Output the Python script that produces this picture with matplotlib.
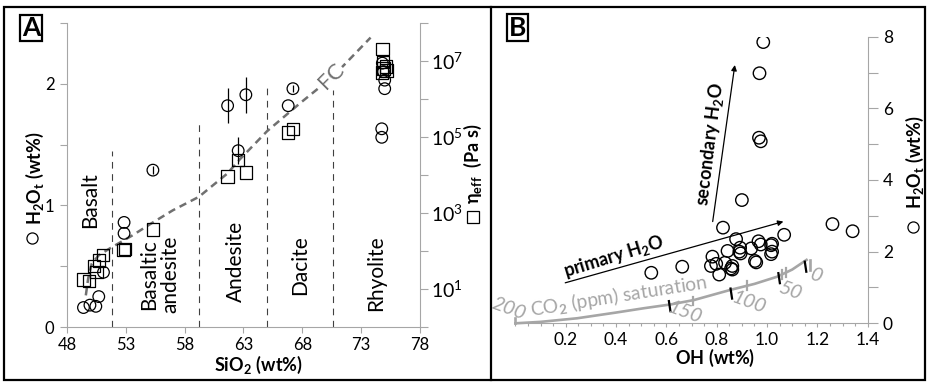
import numpy as np
import matplotlib
matplotlib.use("Agg")
import matplotlib.pyplot as plt
from matplotlib.lines import Line2D
from matplotlib.patches import Rectangle
from matplotlib.ticker import MultipleLocator, FixedLocator, FuncFormatter, NullFormatter

plt.rcParams["font.family"] = ["Lato", "DejaVu Sans"]
plt.rcParams["mathtext.fontset"] = "custom"
plt.rcParams["mathtext.rm"] = "Lato"
plt.rcParams["mathtext.bf"] = "Lato:bold"
plt.rcParams["mathtext.it"] = "Lato:italic"

# ---- panel A data ----
a_sio2 = [49.4, 49.95, 50.45, 50.7, 51.1, 52.85, 52.85, 55.3, 61.65, 63.2, 62.55,
          66.8, 67.2, 74.8, 74.9, 75.0, 75.0, 74.75, 74.75]
a_h2o = [0.16, 0.18, 0.17, 0.25, 0.45, 0.86, 0.77, 1.29, 1.82, 1.91, 1.45,
         1.82, 1.96, 2.17, 2.10, 2.03, 1.96, 1.63, 1.56]
a_h2o_err = [0, 0, 0, 0, 0, 0, 0, 0.03, 0.145, 0.15, 0.11,
             0, 0.03, 0, 0, 0, 0, 0, 0]

eta_sio2 = [49.4, 49.85, 50.3, 50.5, 50.7, 51.05, 52.8, 52.95, 55.3, 61.65, 62.55,
            63.2, 66.8, 67.2, 74.8, 74.85, 75.1, 74.9, 74.75, 75.15]
eta = [18, 16, 40, 28, 56, 79, 107, 112, 370, 9.1e3, 2.5e4,
       1.15e4, 1.3e5, 1.65e5, 2.1e7, 9.5e6, 7.1e6, 6.3e6, 5.0e6, 5.6e6]

fc_sio2 = [49.6, 49.8, 50.1, 50.7, 51.7, 53.5, 55.3, 57.0, 59.2, 61.6, 62.7,
           65.0, 67.8, 70.6, 73.8]
fc_h2o = [0.26, 0.40, 0.52, 0.59, 0.65, 0.75, 0.86, 0.96, 1.07, 1.26, 1.38,
          1.61, 1.84, 2.06, 2.38]

bound_sio2 = [51.8, 59.2, 65.0, 70.6]
bound_top = [1.45, 1.68, 2.0, 1.95]

rock_names = ["Basalt", "Basaltic\nandesite", "Andesite", "Dacite", "Rhyolite"]
rock_x = [49.95, 55.9, 62.35, 67.8, 74.3]
rock_y = [1.04, 0.43, 0.54, 0.51, 0.44]

sio2_ticks = [48, 53, 58, 63, 68, 73, 78]

# ---- panel B data ----
b_oh = [0.985, 0.97, 0.968, 0.975, 0.90, 0.825, 1.26, 1.34, 1.068, 0.54, 0.663,
        0.877, 0.966, 0.975, 1.016, 1.016, 1.02, 0.937, 0.893, 0.89, 0.895,
        0.843, 0.783, 0.798, 0.777, 0.833, 0.862, 0.862, 0.857, 0.81, 0.952,
        0.957, 1.02]
b_h2o = [7.85, 6.98, 5.18, 5.08, 3.44, 2.67, 2.77, 2.57, 2.47, 1.41, 1.58,
         2.35, 2.29, 2.20, 2.18, 1.93, 2.00, 2.09, 2.11, 2.00, 1.95,
         2.02, 1.86, 1.66, 1.60, 1.69, 1.60, 1.50, 1.53, 1.36, 1.74,
         1.70, 2.22]

co2_oh = [0.0, 0.1, 0.245, 0.4, 0.51, 0.62, 0.71, 0.853, 0.95, 1.04, 1.1, 1.157]
co2_h2o = [0.0, 0.04, 0.14, 0.30, 0.42, 0.53, 0.65, 0.93, 1.10, 1.30, 1.50, 1.77]
co2_labels = ["200", "150", "100", "50", "0"]
co2_label_x = [-0.025, 0.675, 0.93, 1.09, 1.195]
co2_label_y = [0.40, 0.30, 0.58, 0.92, 1.33]
co2_black_x = [0.61, 0.855, 1.045, 1.15]
co2_black_y = [0.62, 0.97, 1.40, 1.72]
co2_gray_x = [0.705, 0.922, 1.06]
co2_gray_y = [0.74, 1.17, 1.49]

W, H = 928, 383
fig = plt.figure(figsize=(W / 100, H / 100), dpi=100)
gray = "#a6a6a6"
lab_size = 13

# ================= panel A =================
ax = fig.add_axes([67 / W, 56 / H, 353 / W, 304 / H])
ax.set_xlim(48, 78)
ax.set_ylim(0, 2.5)
ax.xaxis.set_major_locator(FixedLocator(sio2_ticks))
ax.yaxis.set_major_locator(MultipleLocator(1))
ax.yaxis.set_minor_locator(MultipleLocator(0.5))
ax.yaxis.set_minor_formatter(NullFormatter())
ax.tick_params(axis="y", which="both", length=5, width=0.8, color=gray, labelsize=12, pad=4)
ax.tick_params(axis="x", length=4, width=0.8, color=gray, labelsize=12, pad=3)
for s in ["left", "bottom"]:
    ax.spines[s].set_color(gray)
for s in ["top", "right"]:
    ax.spines[s].set_visible(False)

for x, top in zip(bound_sio2, bound_top):
    ax.plot([x, x], [0, top], color="#404040", lw=0.8, dashes=(6, 5))

ax.plot(fc_sio2, fc_h2o, color="#707070", lw=1.8, dashes=(3, 2), zorder=2)
ax.text(70.45, 2.06, "FC", color="#707070", fontsize=16, rotation=45,
        ha="center", va="center", bbox=dict(fc="white", ec="none", pad=0.5), zorder=3)

for name, x, y in zip(rock_names, rock_x, rock_y):
    ax.text(x, y, name, rotation=90, fontsize=15, ha="center", va="center",
            linespacing=1.05)

ax.errorbar(a_sio2, a_h2o, yerr=a_h2o_err, fmt="none", ecolor="black", elinewidth=0.9,
            capsize=0, zorder=3)
ax.scatter(a_sio2, a_h2o, s=70, marker="o", facecolors="none", edgecolors="black",
           linewidths=0.9, zorder=4)

ax.text(0.5425, -0.125, r"$\mathbf{SiO_2\ (wt\%)}$", fontsize=lab_size,
        transform=ax.transAxes, ha="center", va="center")
ax.text(-0.0907, 0.49, r"$\mathbf{H_2O_t\ (wt\%)}$", fontsize=lab_size, rotation=90,
        transform=ax.transAxes, ha="center", va="center")
ax.plot([-0.1], [0.292], marker="o", ms=8, mfc="none", mec="black", mew=0.9,
        transform=ax.transAxes, clip_on=False)

ax2 = ax.twinx()
ax2.set_yscale("log")
ax2.set_ylim(1, 1e8)
ax2.yaxis.set_major_locator(FixedLocator([10.0 ** k for k in range(9)]))
ax2.yaxis.set_minor_locator(FixedLocator([]))
ax2.yaxis.set_major_formatter(FuncFormatter(
    lambda v, p: r"$10^{%d}$" % round(np.log10(v)) if round(np.log10(v)) % 2 else ""))
ax2.tick_params(axis="y", length=6, width=0.8, color=gray, labelsize=14, pad=2)
for s in ["left", "bottom", "top"]:
    ax2.spines[s].set_visible(False)
ax2.spines["right"].set_color(gray)
ax2.scatter(eta_sio2, eta, s=80, marker="s", facecolors="none", edgecolors="black",
            linewidths=0.9, zorder=4)
ax2.text(1.150, 0.536, r"$\mathbf{\eta_{eff}\ \ (Pa\ s)}$", fontsize=lab_size, rotation=90,
         transform=ax2.transAxes, ha="center", va="center")
ax2.plot([1.150], [0.362], marker="s", ms=8, mfc="none", mec="black", mew=0.9,
         transform=ax2.transAxes, clip_on=False)

# ================= panel B =================
bx = fig.add_axes([515.4 / W, 59.7 / H, 352.3 / W, 286.6 / H])
bx.set_xlim(0, 1.4)
bx.set_ylim(0, 8)
bx.yaxis.tick_right()
bx.xaxis.set_major_locator(FixedLocator([0.2, 0.4, 0.6, 0.8, 1.0, 1.2, 1.4]))
bx.xaxis.set_major_formatter(FuncFormatter(lambda v, p: "%.1f" % v))
bx.xaxis.set_minor_locator(MultipleLocator(0.05))
bx.yaxis.set_major_locator(MultipleLocator(2))
bx.yaxis.set_minor_locator(MultipleLocator(1))
bx.yaxis.set_minor_formatter(NullFormatter())
bx.tick_params(axis="y", which="both", length=7, width=0.8, color=gray, labelsize=12.5, pad=4)
bx.tick_params(axis="x", which="major", length=3, width=0.8, color=gray, labelsize=12.5, pad=3)
bx.tick_params(axis="x", which="minor", length=2, width=0.8, color=gray)
for s in ["left", "top"]:
    bx.spines[s].set_visible(False)
for s in ["right", "bottom"]:
    bx.spines[s].set_color(gray)

# CO2 saturation curve
bx.plot(co2_oh, co2_h2o, color=gray, lw=1.9, clip_on=False, zorder=2)
bx.plot([co2_oh[0], co2_oh[0]], [0, 0.15], color=gray, lw=1.9, clip_on=False)
bx.plot([co2_oh[-1] + 0.012, co2_oh[-1] + 0.012], [1.77, 1.5], color=gray, lw=1.9)
for x, y in zip(co2_gray_x, co2_gray_y):
    bx.plot([x, x], [y, y - 0.24], color=gray, lw=1.6)
bx.plot([1.075, 1.075], [1.53, 1.3], color=gray, lw=1.6)
for x, y in zip(co2_black_x, co2_black_y):
    bx.plot([x, x + 0.006], [y, y - 0.28], color="black", lw=1.6)
for lab, x, y in zip(co2_labels, co2_label_x, co2_label_y):
    bx.text(x, y, lab, color=gray, fontsize=14.5, style="italic", rotation=-20,
            ha="center", va="center", clip_on=False)
bx.text(0.062, 0.20, r"CO$_\mathbf{2}$ (ppm) saturation", color=gray, fontsize=13.8,
        rotation=9, rotation_mode="anchor", ha="left", va="baseline")

bx.scatter(b_oh, b_h2o, s=80, marker="o", facecolors="none", edgecolors="black",
           linewidths=1.0, zorder=4)

bx.annotate("", xy=(1.065, 2.84), xytext=(0.198, 1.13),
            arrowprops=dict(arrowstyle="-|>", lw=0.9, color="black", mutation_scale=8,
                            shrinkA=0, shrinkB=0))
bx.annotate("", xy=(0.872, 7.21), xytext=(0.784, 2.84),
            arrowprops=dict(arrowstyle="-|>", lw=0.9, color="black", mutation_scale=8,
                            shrinkA=0, shrinkB=0))
bx.text(0.39, 1.85, r"primary $\mathbf{H_2O}$", fontsize=13, fontweight="bold",
        rotation=17, ha="center", va="center")
bx.text(0.775, 5.0, r"secondary $\mathbf{H_2O}$", fontsize=13, fontweight="bold",
        rotation=83, ha="center", va="center")

bx.text(0.5666, -0.121, r"$\mathbf{OH\ (wt\%)}$", fontsize=lab_size,
        transform=bx.transAxes, ha="center", va="center")
bx.text(1.134, 0.563, r"$\mathbf{H_2O_t\ (wt\%)}$", fontsize=lab_size, rotation=90,
        transform=bx.transAxes, ha="center", va="center")
bx.plot([1.129], [0.337], marker="o", ms=8, mfc="none", mec="black", mew=0.9,
        transform=bx.transAxes, clip_on=False)

# panel frames and letters
fig.add_artist(Rectangle((4 / W, 3 / H), 921 / W, 373 / H, transform=fig.transFigure,
                         fill=False, lw=1.6, color="black"))
fig.add_artist(Line2D([491 / W, 491 / W], [3 / H, 376 / H], transform=fig.transFigure,
                      lw=1.6, color="black"))
fig.text(31 / W, 1 - 28 / H, "A", fontsize=19, fontweight="bold", ha="center", va="center",
         bbox=dict(fc="white", ec="black", lw=1.6, pad=1.0))
fig.text(517.5 / W, 1 - 27.5 / H, "B", fontsize=19, fontweight="bold", ha="center",
         va="center", bbox=dict(fc="white", ec="black", lw=1.6, pad=1.0))

fig.savefig("out.png", dpi=100)
